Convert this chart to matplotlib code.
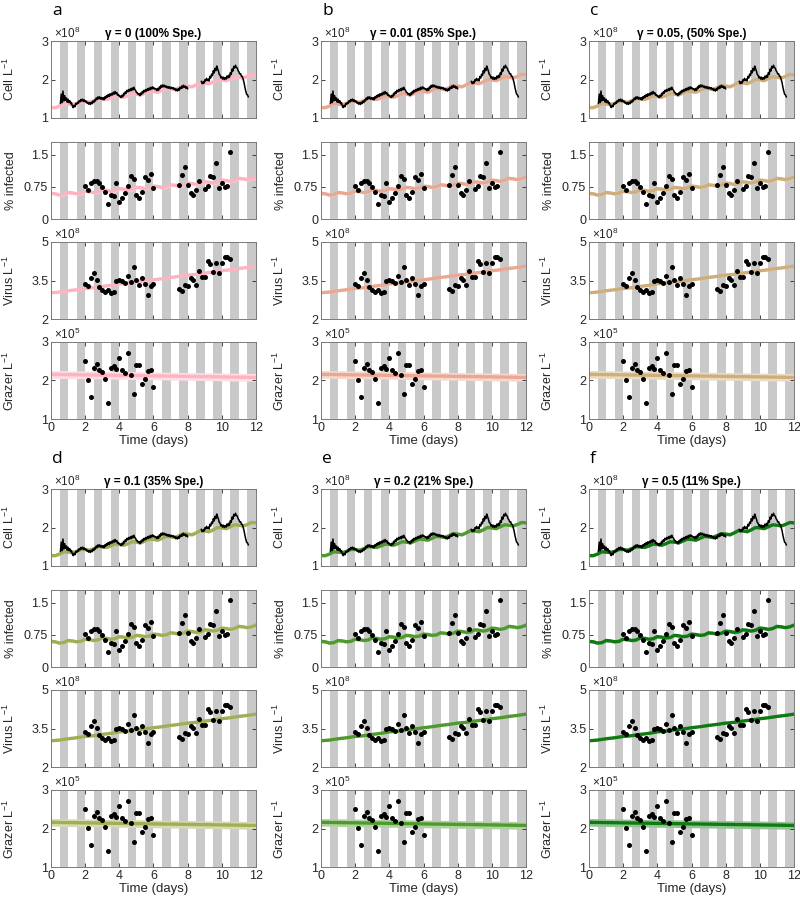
import numpy as np
import matplotlib
matplotlib.use('Agg')
import matplotlib.pyplot as plt

plt.rcParams['font.family'] = ['Liberation Sans', 'DejaVu Sans']
plt.rcParams['mathtext.fontset'] = 'custom'
plt.rcParams['mathtext.rm'] = 'Liberation Sans'
plt.rcParams['mathtext.it'] = 'Liberation Sans:italic'

# ---- data ----
panel_letters = ['a', 'b', 'c', 'd', 'e', 'f']
panel_titles = ['γ = 0 (100% Spe.)', 'γ = 0.01 (85% Spe.)', 'γ = 0.05, (50% Spe.)',
                'γ = 0.1 (35% Spe.)', 'γ = 0.2 (21% Spe.)', 'γ = 0.5 (11% Spe.)']
model_colors = ['#ffb3c1', '#eaa893', '#cfae7c', '#a3ad55', '#4f9a2e', '#107a12']

# measured cell abundance (x1e8 per L), two pieces of the record, every 0.05 d
cell_t1 = np.round(np.arange(0.55, 8.01, 0.05), 2)
cell_v1 = [1.38, 1.62, 1.40, 1.70, 1.44, 1.58, 1.46, 1.52, 1.41, 1.49,
           1.40, 1.45, 1.37, 1.40, 1.31, 1.27, 1.33, 1.29, 1.38, 1.35,
           1.41, 1.38, 1.45, 1.42, 1.48, 1.44, 1.49, 1.43, 1.47, 1.42,
           1.44, 1.39, 1.41, 1.36, 1.40, 1.35, 1.41, 1.37, 1.44, 1.40,
           1.47, 1.44, 1.52, 1.48, 1.55, 1.50, 1.55, 1.49, 1.53, 1.48,
           1.53, 1.47, 1.55, 1.51, 1.58, 1.54, 1.61, 1.56, 1.63, 1.58,
           1.64, 1.60, 1.67, 1.62, 1.69, 1.63, 1.66, 1.59, 1.61, 1.56,
           1.57, 1.53, 1.59, 1.55, 1.64, 1.60, 1.68, 1.64, 1.72, 1.68,
           1.74, 1.70, 1.76, 1.71, 1.78, 1.73, 1.80, 1.74, 1.72, 1.66,
           1.66, 1.61, 1.63, 1.58, 1.65, 1.61, 1.69, 1.65, 1.72, 1.68,
           1.74, 1.70, 1.76, 1.72, 1.78, 1.73, 1.80, 1.75, 1.81, 1.76,
           1.78, 1.74, 1.76, 1.71, 1.77, 1.72, 1.81, 1.77, 1.85, 1.80,
           1.86, 1.81, 1.85, 1.80, 1.83, 1.78, 1.82, 1.77, 1.81, 1.76,
           1.80, 1.76, 1.79, 1.74, 1.77, 1.71, 1.75, 1.70, 1.76, 1.72,
           1.80, 1.76, 1.83, 1.78, 1.85, 1.80, 1.83, 1.77, 1.81, 1.76]
cell_t2 = np.round(np.arange(8.8, 11.56, 0.05), 2)
cell_v2 = [1.95, 1.89, 1.94, 1.90, 1.99, 1.96, 2.03, 1.97, 2.01, 1.96,
           2.08, 2.04, 2.14, 2.10, 2.23, 2.17, 2.29, 2.23, 2.35, 2.28,
           2.22, 2.13, 2.11, 2.04, 2.07, 2.01, 2.06, 2.00, 2.05, 2.01,
           2.09, 2.04, 2.11, 2.06, 2.18, 2.13, 2.27, 2.22, 2.34, 2.30,
           2.37, 2.31, 2.30, 2.23, 2.20, 2.14, 2.15, 2.08, 2.08, 2.00,
           1.92, 1.80, 1.70, 1.62, 1.60, 1.55]

# sampled points, every 4 h
samp_t = [2.0, 2.17, 2.33, 2.5, 2.67, 2.83, 3.0, 3.17, 3.33, 3.5, 3.67, 3.83, 4.0,
          4.17, 4.33, 4.5, 4.67, 4.83, 5.0, 5.17, 5.33, 5.5, 5.67, 5.83, 6.0,
          7.5, 7.67, 7.83, 8.0, 8.17, 8.33, 8.5, 8.67, 8.83, 9.0, 9.17, 9.33,
          9.5, 9.67, 9.83, 10.0, 10.17, 10.33, 10.5]
infected = [0.76, 0.67, 0.83, 0.89, 0.89, 0.85, 0.74, 0.62, 0.35, 0.55, 0.54, 0.85, 0.39,
            0.48, 0.61, 0.78, 1.01, 0.93, 0.55, 0.49, 0.63, 0.99, 0.92, 1.05, 0.72,
            0.79, 1.02, 1.22, 0.80, 0.60, 0.55, 0.68, 0.88, np.nan, 0.70, 0.76, 1.01,
            0.99, 1.30, 0.72, 0.83, 0.75, 0.77, 1.57]
virus = [3.35, 3.30, 3.60, 3.78, 3.53, 3.26, 3.12, 3.04, 3.12, 3.00, 3.07, 3.49, 3.53,
         3.49, 3.41, 3.68, 3.46, 4.02, 3.53, 3.33, 3.58, 3.37, 2.94, 3.27, 3.35,
         3.17, 3.10, 3.33, 3.28, 3.59, 3.53, 3.31, 3.86, 3.63, 3.63, 4.27, 4.14,
         3.84, 4.18, 3.79, 4.18, 4.40, 4.40, 4.32]
grazer_t = samp_t[:25]
grazer = [2.51, 2.02, 1.57, 2.33, 2.43, 2.28, 2.21, 2.04, 1.41, 2.32, 2.38, 2.31, 2.58,
          2.26, 2.19, 2.72, 2.13, 1.65, 2.40, 2.40, 1.92, 2.04, 2.24, 2.27, 1.83]

# model output
model_t = np.arange(0, 12.01, 0.25)
model_cell = [1.27, 1.27, 1.31, 1.37, 1.36, 1.35, 1.38, 1.43, 1.43, 1.41,
              1.45, 1.50, 1.50, 1.48, 1.52, 1.57, 1.56, 1.54, 1.58, 1.63,
              1.62, 1.60, 1.65, 1.70, 1.69, 1.67, 1.72, 1.77, 1.76, 1.74,
              1.79, 1.84, 1.83, 1.81, 1.86, 1.92, 1.91, 1.89, 1.94, 2.00,
              1.99, 1.97, 2.02, 2.07, 2.06, 2.04, 2.08, 2.13, 2.12]
model_inf = [0.60, 0.59, 0.56, 0.57, 0.62, 0.61, 0.59, 0.60, 0.65, 0.64,
             0.62, 0.63, 0.68, 0.67, 0.65, 0.66, 0.71, 0.70, 0.68, 0.69,
             0.74, 0.73, 0.71, 0.72, 0.77, 0.76, 0.74, 0.75, 0.80, 0.79,
             0.77, 0.79, 0.84, 0.83, 0.81, 0.82, 0.87, 0.86, 0.84, 0.86,
             0.91, 0.90, 0.88, 0.90, 0.95, 0.94, 0.92, 0.94, 0.98]
model_t_half = np.arange(0, 12.01, 0.5)
model_virus = [3.02, 3.05, 3.10, 3.14, 3.19, 3.22, 3.27, 3.31, 3.37, 3.40, 3.45, 3.48, 3.53,
               3.57, 3.62, 3.66, 3.71, 3.74, 3.79, 3.83, 3.88, 3.92, 3.97, 4.01, 4.06]
model_t_grz = [0, 3, 6, 9, 12]
model_grazer = [2.16, 2.14, 2.12, 2.10, 2.08]
# half width of the model spread
spread_cell, spread_inf, spread_virus, spread_grazer = 0.03, 0.035, 0.03, 0.1

# ---- layout (pixels of an 800x898 canvas) ----
W, H = 800, 898
col_left = [51, 321, 589]
ax_w, ax_h = 205, 77
row_top = [41, 142, 242, 342]
block_off = [0, 448]

ylabels = ['Cell L$^{-1}$', '% infected', 'Virus L$^{-1}$', 'Grazer L$^{-1}$']
ylims = [(1, 3), (0, 1.8), (2, 5), (1, 3)]
yticks = [[1, 2, 3], [0, 0.75, 1.5], [2, 3.5, 5], [1, 2, 3]]
ytlabels = [['1', '2', '3'], ['0', '0.75', '1.5'], ['2', '3.5', '5'], ['1', '2', '3']]
offsets = [r'$\times10^{8}$', None, r'$\times10^{8}$', r'$\times10^{5}$']

fig = plt.figure(figsize=(W / 100, H / 100), dpi=100)


def light(c, a):
    rgb = np.array(matplotlib.colors.to_rgb(c))
    return tuple(1 - a * (1 - rgb))


for p in range(6):
    blk, col = divmod(p, 3)
    color = model_colors[p]
    x0 = col_left[col]
    fig.text((x0 + 1) / W, 1 - (11 + block_off[blk]) / H, panel_letters[p],
             fontsize=12.5, family='Open Sans', ha='left', va='center')
    for r in range(4):
        top = row_top[r] + block_off[blk]
        ax = fig.add_axes([x0 / W, 1 - (top + ax_h) / H, ax_w / W, ax_h / H])
        # night bands
        for k in range(12):
            ax.axvspan(k + 0.5, k + 1.0, color='#c9c9c9', lw=0, zorder=0)

        if r == 0:
            yv = np.array(model_cell)
            ax.fill_between(model_t, yv - spread_cell, yv + spread_cell,
                            color=light(color, 0.45), lw=0, zorder=1)
            ax.plot(model_t, yv, color=color, lw=2.4, zorder=2)
            ax.plot(cell_t1, cell_v1, color='k', lw=1.1, zorder=3)
            ax.plot(cell_t2, cell_v2, color='k', lw=1.1, zorder=3)
        elif r == 1:
            yv = np.array(model_inf)
            ax.fill_between(model_t, yv - spread_inf, yv + spread_inf,
                            color=light(color, 0.45), lw=0, zorder=1)
            ax.plot(model_t, yv, color=color, lw=2.4, zorder=2)
            ax.plot(samp_t, infected, 'o', color='k', ms=3.6, mew=0, zorder=3)
        elif r == 2:
            yv = np.array(model_virus)
            ax.fill_between(model_t_half, yv - spread_virus, yv + spread_virus,
                            color=light(color, 0.45), lw=0, zorder=1)
            ax.plot(model_t_half, yv, color=color, lw=2.4, zorder=2)
            ax.plot(samp_t, virus, 'o', color='k', ms=3.6, mew=0, zorder=3)
        else:
            yv = np.array(model_grazer)
            ax.fill_between(model_t_grz, yv - spread_grazer, yv + spread_grazer,
                            color=light(color, 0.45), lw=0, zorder=1)
            ax.plot(model_t_grz, yv, color=color, lw=2.4, zorder=2)
            ax.plot(grazer_t, grazer, 'o', color='k', ms=3.6, mew=0, zorder=3)

        ax.set_xlim(0, 12)
        ax.set_ylim(*ylims[r])
        ax.set_xticks(range(0, 13, 2))
        ax.set_yticks(yticks[r])
        ax.set_yticklabels(ytlabels[r])
        ax.tick_params(direction='in', length=3, width=0.6, top=True, right=True,
                       labelsize=9, colors='#262626', pad=2)
        for s in ax.spines.values():
            s.set_color('#7a7a7a')
            s.set_linewidth(0.7)
        if r == 3:
            ax.set_xlabel('Time (days)', fontsize=9.5, labelpad=1, color='#262626')
        else:
            ax.set_xticklabels([])
        ax.set_ylabel(ylabels[r], fontsize=9, color='#262626')
        ax.yaxis.set_label_coords(-0.165, 0.5)
        if offsets[r]:
            ax.text(0.015, 1.0, offsets[r], transform=ax.transAxes, ha='left',
                    va='bottom', fontsize=8.5, color='#262626')
        if r == 0:
            ax.set_title(panel_titles[p], fontsize=8.5, fontweight='bold', pad=3)

fig.savefig('out.png', dpi=100)
